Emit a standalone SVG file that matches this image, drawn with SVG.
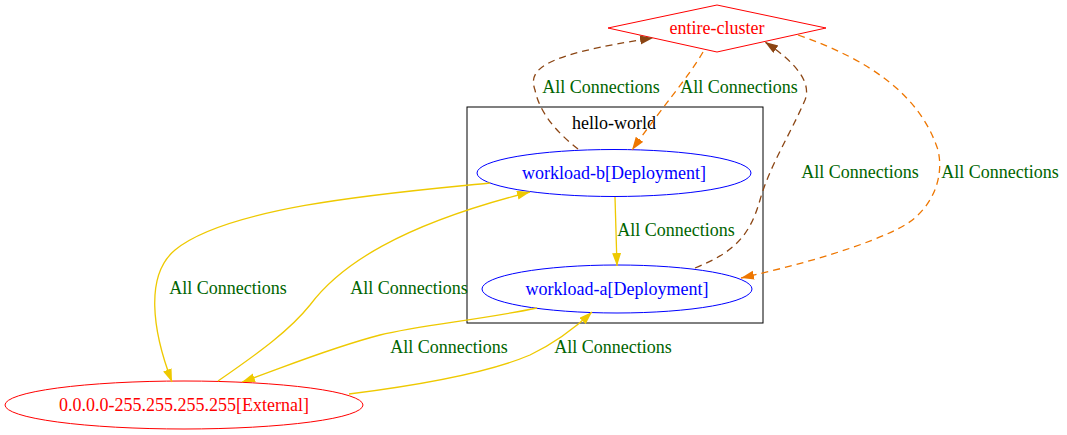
<svg xmlns="http://www.w3.org/2000/svg" width="1067" height="435" viewBox="0 0 1067 435">
<style>
text{font-family:"Liberation Serif","Times New Roman",serif;font-size:18px;text-anchor:middle}
.lbl{fill:#006400}
.e{fill:none;stroke-width:1.3}
.y{stroke:#eec900}
.o{stroke:#ee7600;stroke-dasharray:7,5}
.b{stroke:#8b4513;stroke-dasharray:7,5}
</style>
<defs>
<marker id="ay" markerWidth="13" markerHeight="10" refX="13" refY="4.5" orient="auto" markerUnits="userSpaceOnUse"><path d="M0,0L13,4.5L0,9z" fill="#eec900"/></marker>
<marker id="ao" markerWidth="13" markerHeight="10" refX="13" refY="4.5" orient="auto" markerUnits="userSpaceOnUse"><path d="M0,0L13,4.5L0,9z" fill="#ee7600"/></marker>
<marker id="ab" markerWidth="13" markerHeight="10" refX="13" refY="4.5" orient="auto" markerUnits="userSpaceOnUse"><path d="M0,0L13,4.5L0,9z" fill="#8b4513"/></marker>
</defs>
<rect width="1067" height="435" fill="#fff"/>
<g id="cluster-hello-world">
<rect x="467" y="107" width="296" height="216" fill="none" stroke="#000"/>
<text x="614" y="129" fill="#000">hello-world</text>
</g>
<g id="node-entire-cluster">
<polygon points="608,28 717,5 826,28 717,52" fill="none" stroke="#ff0000"/>
<text x="717" y="34" fill="#ff0000">entire-cluster</text>
</g>
<g id="node-workload-b">
<ellipse cx="614" cy="173" rx="137" ry="23.5" fill="none" stroke="#0000ff"/>
<text x="614" y="179" fill="#0000ff">workload-b[Deployment]</text>
</g>
<g id="node-workload-a">
<ellipse cx="617" cy="289" rx="135" ry="24" fill="none" stroke="#0000ff"/>
<text x="617" y="295" fill="#0000ff">workload-a[Deployment]</text>
</g>
<g id="node-external">
<ellipse cx="184" cy="405" rx="179" ry="24" fill="none" stroke="#ff0000"/>
<text x="184" y="411" fill="#ff0000">0.0.0.0-255.255.255.255[External]</text>
</g>
<g id="connectors">
<path class="e y" d="M490,183 C400,192 230,205 175,250 C145,275 152,330 172,382" marker-end="url(#ay)"/>
<path class="e y" d="M218,381 C260,352 290,330 310,305 C340,265 400,225 530,192" marker-end="url(#ay)"/>
<path class="e y" d="M537,308 C480,320 420,325 380,335 C330,348 290,365 242,382" marker-end="url(#ay)"/>
<path class="e y" d="M349,394 C420,385 490,372 530,355 C555,343 575,328 592,312" marker-end="url(#ay)"/>
<path class="e y" d="M615,197 L617,266" marker-end="url(#ay)"/>
<path class="e b" d="M578,149 C560,135 540,115 535,90 C528,70 540,55 653,38" marker-end="url(#ab)"/>
<path class="e o" d="M703,52 C690,75 660,110 632,150" marker-end="url(#ao)"/>
<path class="e b" d="M695,268 C735,252 750,235 760,200 C770,165 790,135 805,100 C812,82 795,62 765,42" marker-end="url(#ab)"/>
<path class="e o" d="M798,35 C870,60 920,95 938,150 C945,180 930,210 905,225 C870,245 800,265 741,278" marker-end="url(#ao)"/>
<text class="lbl" x="228" y="294">All Connections</text>
<text class="lbl" x="409" y="294">All Connections</text>
<text class="lbl" x="449" y="353">All Connections</text>
<text class="lbl" x="613" y="353">All Connections</text>
<text class="lbl" x="676" y="236">All Connections</text>
<text class="lbl" x="601" y="93">All Connections</text>
<text class="lbl" x="739" y="93">All Connections</text>
<text class="lbl" x="860" y="178">All Connections</text>
<text class="lbl" x="1000" y="178">All Connections</text>
</g>
</svg>
